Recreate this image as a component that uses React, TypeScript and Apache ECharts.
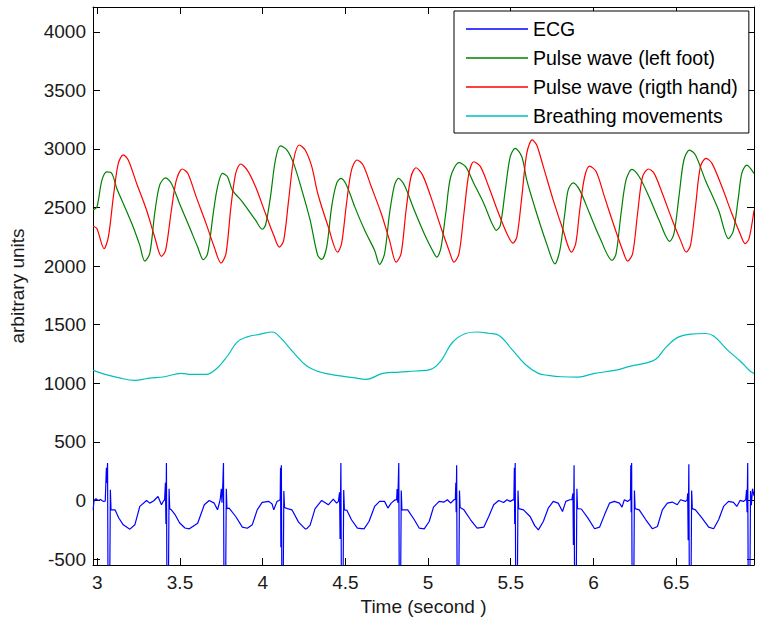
import React, { useEffect, useRef } from 'react';
import * as echarts from 'echarts';

const SERIES_NAMES = ['ECG', 'Pulse wave (left foot)', 'Pulse wave (rigth hand)', 'Breathing movements'];
const X_TICKS = [3, 3.5, 4, 4.5, 5, 5.5, 6, 6.5];
const Y_TICKS = [-500, 0, 500, 1000, 1500, 2000, 2500, 3000, 3500, 4000];
const X_RANGE = [2.974, 6.971];
const Y_RANGE = [-551, 4212];

const ecg: [number, number][] = [
  [2.975,-80],[2.980,0],[2.992,15],[3.005,0],[3.020,8],[3.035,-8],[3.048,-5],[3.055,280],[3.058,150],[3.062,320],[3.065,-750],[3.075,-750],[3.079,92],[3.083,-80],[3.107,-80],[3.130,-150],[3.157,-208],[3.197,-245],[3.227,-208],[3.257,-51],[3.298,0],[3.317,-23],[3.340,-5],[3.367,34],[3.388,-37],[3.400,-5],[3.407,6],
  [3.412,150],[3.415,-200],[3.418,320],[3.421,-750],[3.430,-750],[3.434,100],[3.438,-70],[3.448,-80],[3.470,-120],[3.497,-190],[3.530,-235],[3.557,-242],[3.607,-194],[3.647,-37],[3.677,0],[3.707,-23],[3.727,-80],[3.743,6],
  [3.750,100],[3.754,-20],[3.758,100],[3.763,320],[3.766,-750],[3.776,-750],[3.780,100],[3.784,-70],[3.797,-65],[3.837,-137],[3.877,-228],[3.907,-237],[3.937,-208],[3.967,-80],[3.997,-17],[4.037,-8],[4.057,-30],[4.067,-80],[4.087,-8],[4.100,0],
  [4.106,10],[4.108,280],[4.110,-400],[4.113,300],[4.116,-750],[4.124,-750],[4.128,80],[4.132,-60],[4.150,-70],[4.177,-80],[4.217,-185],[4.257,-242],[4.267,-240],[4.287,-210],[4.317,-70],[4.357,0],[4.397,-37],[4.427,11],[4.447,-23],[4.458,-8],
  [4.465,70],[4.468,-330],[4.473,320],[4.476,-750],[4.486,-750],[4.490,90],[4.494,-80],[4.510,-85],[4.537,-165],[4.573,-237],[4.613,-242],[4.643,-180],[4.677,-51],[4.707,-8],[4.737,-8],[4.757,-65],[4.777,-23],[4.801,6],
  [4.810,5],[4.813,98],[4.817,-20],[4.823,320],[4.826,-750],[4.834,-750],[4.838,85],[4.842,-80],[4.877,-80],[4.917,-165],[4.947,-237],[4.977,-242],[5.007,-180],[5.033,-57],[5.067,-8],[5.097,-14],[5.117,6],[5.137,-23],[5.157,6],
  [5.165,10],[5.168,150],[5.170,-100],[5.173,300],[5.176,-750],[5.186,-750],[5.190,85],[5.194,-60],[5.217,-80],[5.257,-165],[5.297,-237],[5.337,-228],[5.367,-137],[5.397,-37],[5.427,0],[5.457,-17],[5.477,6],[5.497,-8],[5.513,5],
  [5.519,5],[5.522,280],[5.524,-200],[5.527,320],[5.530,-750],[5.540,-750],[5.544,85],[5.548,-70],[5.577,-80],[5.617,-137],[5.645,-215],[5.667,-251],[5.697,-180],[5.727,-65],[5.757,-8],[5.787,-23],[5.813,-94],[5.833,-8],[5.857,6],
  [5.870,6],[5.876,60],[5.879,-380],[5.883,300],[5.886,-750],[5.896,-750],[5.900,100],[5.904,-70],[5.927,-73],[5.967,-151],[6.007,-242],[6.037,-228],[6.067,-123],[6.097,-23],[6.127,-8],[6.157,-23],[6.173,-57],[6.187,6],[6.207,-8],[6.220,5],
  [6.224,10],[6.226,300],[6.228,-100],[6.231,320],[6.234,-750],[6.244,-750],[6.248,85],[6.252,-70],[6.277,-80],[6.317,-165],[6.357,-242],[6.387,-222],[6.417,-80],[6.447,-23],[6.477,-14],[6.507,-37],[6.527,6],[6.557,-8],[6.567,5],
  [6.570,60],[6.573,-340],[6.577,310],[6.580,-750],[6.590,-750],[6.594,85],[6.598,-70],[6.617,-80],[6.657,-151],[6.697,-228],[6.727,-242],[6.757,-165],[6.787,-51],[6.817,-8],[6.847,-17],[6.867,-51],[6.887,0],[6.907,-8],[6.921,5],
  [6.926,90],[6.929,-100],[6.933,320],[6.936,-750],[6.946,-750],[6.950,80],[6.955,-40],[6.962,100],[6.971,40],
];

const leftFoot: [number, number][] = [
  [2.975,2480],[2.998,2506],[3.028,2734],[3.058,2805],[3.088,2791],[3.118,2663],[3.157,2535],[3.217,2334],[3.257,2177],[3.287,2043],[3.317,2106],[3.347,2449],[3.377,2691],[3.413,2754],[3.448,2706],[3.497,2535],[3.557,2334],[3.607,2163],[3.641,2055],[3.667,2106],[3.701,2449],[3.727,2677],[3.757,2792],[3.787,2763],[3.817,2649],[3.877,2549],[3.957,2392],[3.997,2315],[4.017,2349],[4.047,2591],[4.077,2906],[4.107,3026],[4.147,2991],[4.187,2877],[4.237,2649],[4.287,2392],[4.333,2092],[4.357,2058],[4.387,2163],[4.417,2506],[4.447,2706],[4.473,2749],[4.507,2691],[4.557,2506],[4.617,2306],[4.677,2134],[4.707,2015],[4.737,2106],[4.767,2449],[4.797,2691],[4.821,2749],[4.857,2691],[4.917,2477],[4.977,2277],[5.027,2134],[5.053,2077],[5.077,2149],[5.107,2449],[5.137,2763],[5.187,2883],[5.227,2849],[5.277,2706],[5.337,2535],[5.387,2363],[5.413,2306],[5.437,2349],[5.467,2649],[5.497,2934],[5.527,3006],[5.567,2934],[5.597,2734],[5.657,2449],[5.717,2192],[5.767,2020],[5.797,2134],[5.827,2449],[5.847,2649],[5.877,2711],[5.917,2649],[5.977,2449],[6.037,2249],[6.113,2049],[6.137,2106],[6.167,2449],[6.197,2734],[6.233,2826],[6.277,2763],[6.337,2591],[6.397,2392],[6.461,2212],[6.487,2277],[6.517,2591],[6.547,2906],[6.581,2991],[6.617,2948],[6.677,2734],[6.757,2477],[6.817,2235],[6.847,2306],[6.877,2591],[6.897,2792],[6.927,2863],[6.971,2792],
];

const rightHand: [number, number][] = [
  [2.975,2340],[2.998,2320],[3.041,2149],[3.067,2249],[3.097,2591],[3.127,2877],[3.157,2949],[3.187,2906],[3.238,2706],[3.298,2477],[3.347,2249],[3.388,2083],[3.413,2134],[3.448,2477],[3.478,2734],[3.514,2829],[3.547,2792],[3.598,2591],[3.658,2363],[3.707,2163],[3.748,2026],[3.778,2106],[3.808,2506],[3.837,2792],[3.867,2872],[3.907,2820],[3.957,2677],[4.017,2449],[4.067,2263],[4.101,2163],[4.127,2220],[4.157,2563],[4.187,2906],[4.221,3034],[4.257,2991],[4.297,2849],[4.333,2620],[4.397,2334],[4.453,2120],[4.477,2192],[4.507,2535],[4.537,2820],[4.571,2906],[4.607,2863],[4.657,2677],[4.717,2449],[4.767,2220],[4.807,2034],[4.837,2106],[4.867,2477],[4.897,2763],[4.927,2840],[4.967,2777],[5.017,2591],[5.077,2334],[5.127,2134],[5.157,2034],[5.187,2106],[5.217,2449],[5.247,2792],[5.277,2891],[5.317,2849],[5.367,2677],[5.427,2449],[5.477,2277],[5.513,2197],[5.537,2249],[5.567,2591],[5.597,2963],[5.630,3077],[5.657,3034],[5.697,2849],[5.757,2563],[5.817,2306],[5.867,2120],[5.893,2192],[5.917,2477],[5.947,2763],[5.977,2854],[6.017,2805],[6.067,2591],[6.127,2334],[6.177,2134],[6.207,2043],[6.237,2106],[6.267,2449],[6.297,2763],[6.333,2829],[6.367,2792],[6.417,2620],[6.477,2392],[6.527,2220],[6.561,2120],[6.587,2177],[6.617,2506],[6.647,2849],[6.681,2920],[6.717,2877],[6.777,2677],[6.837,2449],[6.887,2277],[6.917,2192],[6.941,2235],[6.971,2477],
];

const breathing: [number, number][] = [
  [2.975,1110],[3.047,1076],[3.127,1048],[3.227,1025],[3.307,1042],[3.407,1056],[3.508,1085],[3.568,1076],[3.658,1076],[3.727,1133],[3.787,1233],[3.847,1353],[3.907,1396],[3.987,1419],[4.057,1438],[4.107,1390],[4.187,1262],[4.267,1147],[4.347,1096],[4.447,1068],[4.547,1048],[4.627,1034],[4.727,1085],[4.827,1096],[4.927,1105],[5.017,1119],[5.077,1190],[5.147,1348],[5.227,1425],[5.297,1438],[5.367,1427],[5.427,1410],[5.507,1290],[5.587,1162],[5.667,1085],[5.727,1068],[5.807,1056],[5.907,1053],[6.007,1085],[6.127,1110],[6.227,1147],[6.307,1170],[6.377,1205],[6.437,1305],[6.507,1390],[6.587,1419],[6.677,1425],[6.727,1404],[6.807,1290],[6.887,1190],[6.947,1105],[6.971,1085],
];

const COLORS = ['#0000ff', '#008000', '#ff0000', '#00bfbf'];
const SMOOTH = [false, 0.3, 0.3, 0.4];
const FONT = 'Liberation Sans, Arial, sans-serif';

export default function App() {
  const ref = useRef<HTMLDivElement>(null);
  useEffect(() => {
    if (!ref.current) return;
    const chart = echarts.init(ref.current, null, { renderer: 'svg' });
    const axisLine = { show: true, onZero: false, lineStyle: { color: '#000', width: 1 } };
    const xTick = { show: true, inside: true, length: 7, customValues: X_TICKS, lineStyle: { color: '#000' } };
    const yTick = { show: true, inside: true, length: 7, customValues: Y_TICKS, lineStyle: { color: '#000' } };
    const labelStyle = { fontFamily: FONT, fontSize: 19, color: '#1a1a1a' };
    const datasets = [ecg, leftFoot, rightHand, breathing];
    chart.setOption({
      animation: false,
      backgroundColor: '#fff',
      grid: { left: 88, right: 9, top: 7, bottom: 63, containLabel: false },
      legend: {
        orient: 'vertical',
        left: 454,
        top: 11,
        padding: [7, 11, 6, 12],
        itemGap: 7,
        itemWidth: 62,
        itemHeight: 1.5,
        icon: 'rect',
        backgroundColor: '#fff',
        borderColor: '#000',
        borderWidth: 1,
        borderRadius: 0,
        textStyle: { fontFamily: FONT, fontSize: 19.5, color: '#000', lineHeight: 22 },
        data: SERIES_NAMES,
      },
      xAxis: [
        {
          type: 'value', min: X_RANGE[0], max: X_RANGE[1], position: 'bottom',
          axisLine, axisTick: xTick, splitLine: { show: false },
          axisLabel: { ...labelStyle, customValues: X_TICKS, margin: 8, formatter: (v: number) => String(v) },
          name: 'Time (second )', nameLocation: 'middle', nameGap: 31,
          nameTextStyle: { fontFamily: FONT, fontSize: 19, color: '#1a1a1a' },
        },
        {
          type: 'value', min: X_RANGE[0], max: X_RANGE[1], position: 'top',
          axisLine, axisTick: xTick, splitLine: { show: false }, axisLabel: { show: false },
        },
      ],
      yAxis: [
        {
          type: 'value', min: Y_RANGE[0], max: Y_RANGE[1], position: 'left',
          axisLine, axisTick: yTick, splitLine: { show: false },
          axisLabel: { ...labelStyle, customValues: Y_TICKS, margin: 7, formatter: (v: number) => String(v) },
          name: 'arbitrary units', nameLocation: 'middle', nameGap: 66,
          nameTextStyle: { fontFamily: FONT, fontSize: 19, color: '#1a1a1a' },
        },
        {
          type: 'value', min: Y_RANGE[0], max: Y_RANGE[1], position: 'right',
          axisLine, axisTick: yTick, splitLine: { show: false }, axisLabel: { show: false },
        },
      ],
      series: SERIES_NAMES.map((name, i) => ({
        name,
        type: 'line',
        data: datasets[i],
        xAxisIndex: 0,
        yAxisIndex: 0,
        symbol: 'none',
        showSymbol: false,
        smooth: SMOOTH[i],
        clip: true,
        color: COLORS[i],
        lineStyle: { color: COLORS[i], width: 1.2 },
        z: 2,
      })),
    });
    return () => chart.dispose();
  }, []);
  return <div ref={ref} style={{ position: 'fixed', left: 0, top: 0, width: 763, height: 628 }} />;
}
